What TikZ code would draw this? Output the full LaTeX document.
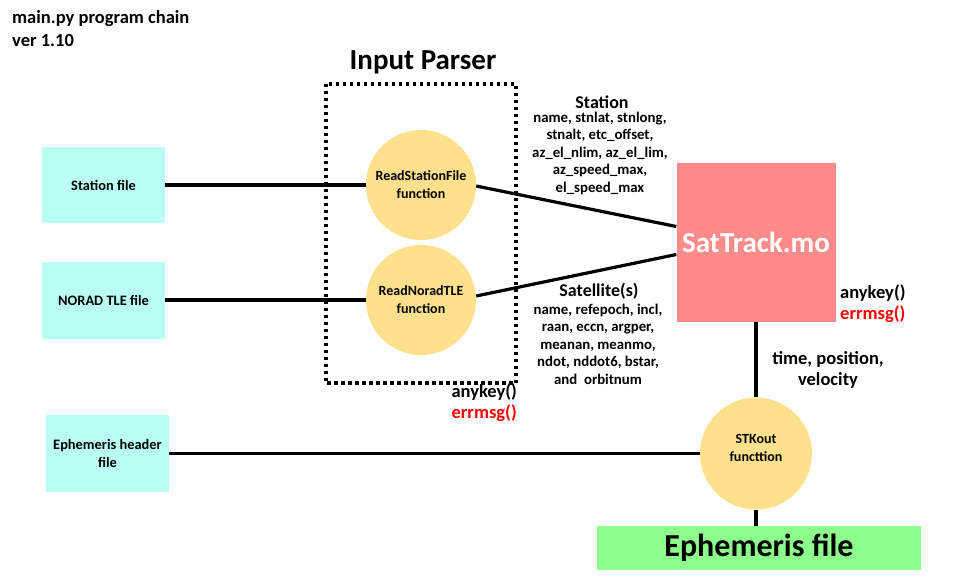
\documentclass[tikz,border=0pt]{standalone}
\usepackage{fontspec}
\setmainfont{Carlito}
\definecolor{filecyan}{HTML}{B9FFF3}
\definecolor{funcyel}{HTML}{FFE08C}
\definecolor{satred}{HTML}{FF8A8A}
\definecolor{ephgreen}{HTML}{8CFF8C}
\tikzset{
  filebox/.style={rectangle, fill=filecyan, draw=none, inner sep=0pt, minimum width=123pt, minimum height=76pt, align=center, font=\fontsize{14.4}{18}\selectfont\bfseries},
  func/.style={circle, fill=funcyel, draw=none, inner sep=0pt, minimum size=110pt, align=center, font=\fontsize{14}{18}\selectfont\bfseries},
  conn/.style={line width=3.2pt, black},
  lbl/.style={align=center, inner sep=0pt, font=\fontsize{14.8}{17.5}\selectfont\bfseries},
  head/.style={inner sep=0pt, font=\fontsize{18}{20}\selectfont\bfseries},
  errtxt/.style={inner sep=0pt, font=\fontsize{18.5}{20.5}\selectfont\bfseries},
  dotbox/.style={draw=black, line width=3.5pt, dash pattern=on 3.5pt off 3.5pt},
}
\begin{document}
\begin{tikzpicture}[x=1pt,y=-1pt]
\useasboundingbox[fill=white] (0,0) rectangle (960,587);

% title
\node[anchor=west, align=left, inner sep=0pt, font=\fontsize{18.5}{23}\selectfont\bfseries] (title) at (12,29) {main.py program chain\\ver 1.10};

% file boxes
\node[filebox] (stf) at (103.5,185) {Station file};
\node[filebox, minimum height=77pt] (ntf) at (103.5,300) {NORAD TLE file};
\node[filebox, minimum height=77pt] (ehf) at (107.5,453.5) {Ephemeris header\\file};

% functions
\node[func] (rsf) at (421,185) {ReadStationFile\\function};
\node[func] (rnt) at (421,300) {ReadNoradTLE\\function};
\node[func, minimum size=112pt] (stk) at (756,453.5) {};
\node[lbl, font=\fontsize{14}{18}\selectfont\bfseries] (stktxt) at (756,448) {STKout\\functtion};

% SatTrack
\node[rectangle, fill=satred, inner sep=0pt, minimum width=159pt, minimum height=159pt, text=white, font=\fontsize{29}{32}\selectfont\bfseries] (sat) at (756,242.5) {SatTrack.mo};

% Ephemeris file
\node[rectangle, fill=ephgreen, inner sep=0pt, minimum width=324pt, minimum height=44pt, font=\fontsize{32}{34}\selectfont\bfseries] (eph) at (759,548) {Ephemeris file};

% input parser box
\node[rectangle, inner sep=0pt, minimum width=190pt, minimum height=299pt] (parser) at (421,233.5) {};
\node[inner sep=0pt, font=\fontsize{29}{32}\selectfont\bfseries] (ptitle) at (423,62) {Input Parser};

\draw[conn] (stf.east) -- (rsf.west);
\draw[conn] (ntf.east) -- (rnt.west);
\draw[conn] (ehf.east) -- (stk.west);
\draw[conn] ([yshift=-1pt]rsf.east) -- ([yshift=16pt]sat.west);
\draw[conn] ([yshift=4pt]rnt.east) -- ([yshift=-12pt]sat.west);
\draw[conn] (sat.south) -- (stk.north);
\draw[conn] (stk.south) -- (stk.south |- eph.north);

\draw[dotbox] (parser.north west) rectangle (parser.south east);

% labels
\node[head] (sthead) at (602,102) {Station};
\node[lbl] (stlist) at (600,153) {name, stnlat, stnlong,\\stnalt, etc\_offset,\\az\_el\_nlim, az\_el\_lim,\\az\_speed\_max,\\el\_speed\_max};
\node[head] (sathead) at (599,291) {Satellite(s)};
\node[lbl] (satlist) at (598,344) {name, refepoch, incl,\\raan, eccn, argper,\\meanan, meanmo,\\ndot, nddot6, bstar,\\and\ \ orbitnum};
\node[errtxt, align=center] (tpv) at (828,370) {time, position,\\velocity};

\node[errtxt, anchor=west] (ak1) at (840,293) {anykey()};
\node[errtxt, anchor=west, text=red] (em1) at (840,314) {errmsg()};
\node[errtxt, anchor=east] (ak2) at (517,392) {anykey()};
\node[errtxt, anchor=east, text=red] (em2) at (517,413) {errmsg()};
\end{tikzpicture}
\end{document}
